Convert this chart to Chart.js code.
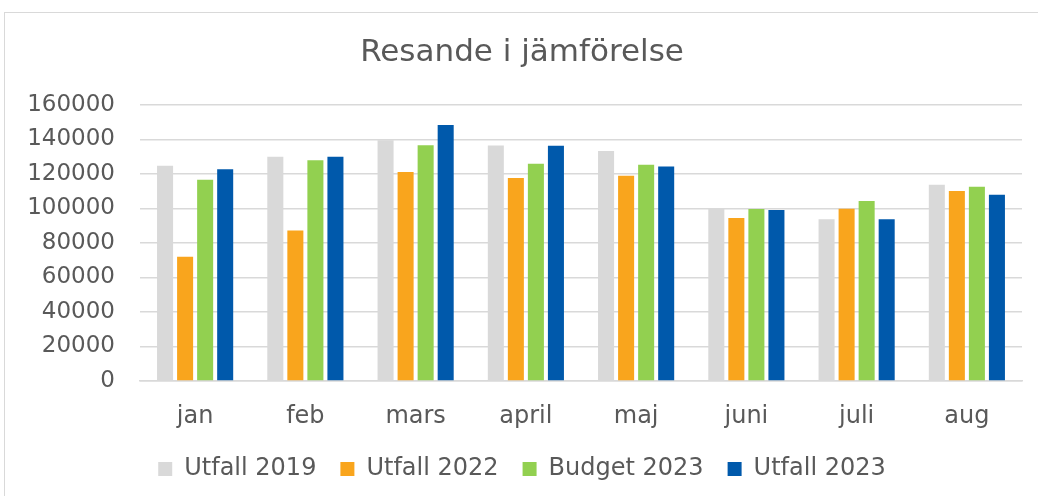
<!DOCTYPE html>
<html>
<head>
<meta charset="utf-8">
<script src="https://cdn.jsdelivr.net/npm/chart.js@4"></script>
<style>
  html, body { margin: 0; padding: 0; background: #fff; }
  #wrap { position: relative; width: 1038px; height: 496px; overflow: hidden; }
  #frame { position: absolute; left: 4px; top: 12px; width: 1100px; height: 600px; border: 1.5px solid #d9d9d9; }
  #resChart { position: absolute; left: 0; top: 0; }
</style>
</head>
<body>
<div id="wrap">
  <div id="frame"></div>
  <canvas id="resChart" width="1038" height="496"></canvas>
</div>
<script>
  const months = ['jan', 'feb', 'mars', 'april', 'maj', 'juni', 'juli', 'aug'];
  const utfall2019 = [124800, 130000, 139500, 136500, 133400, 100000, 93800, 113700];
  const utfall2022 = [72000, 87300, 121200, 117700, 119000, 94500, 99900, 110100];
  const budget2023 = [116700, 127900, 136600, 126000, 125400, 99700, 104300, 112600];
  const utfall2023 = [122700, 130000, 148400, 136400, 124400, 99100, 93700, 108000];

  const textColor = '#595959';
  const gridColor = '#d9d9d9';
  const fontFamily = "'DejaVu Sans', Verdana, sans-serif";

  const plotTop = 105;
  const plotBottom = 381;
  const plotLeft = 140;
  const padLeft = 22;
  const padBottom = 5;

  document.addEventListener("DOMContentLoaded", () => {
    const ctx = document.getElementById('resChart').getContext('2d');

    const data = {
      labels: months,
      datasets: [
        { label: 'Utfall 2019', data: utfall2019, backgroundColor: '#d9d9d9' },
        { label: 'Utfall 2022', data: utfall2022, backgroundColor: '#f9a51d' },
        { label: 'Budget 2023', data: budget2023, backgroundColor: '#92d050' },
        { label: 'Utfall 2023', data: utfall2023, backgroundColor: '#0059ab' }
      ]
    };

    new Chart(ctx, {
      type: 'bar',
      data: data,
      options: {
        responsive: false,
        animation: false,
        datasets: {
          bar: { categoryPercentage: 0.727, barPercentage: 0.8 }
        },
        layout: { padding: { left: padLeft, right: 16, top: 0, bottom: padBottom } },
        scales: {
          x: {
            grid: { display: false },
            border: { display: true, color: gridColor, width: 1.5 },
            ticks: { color: textColor, font: { family: fontFamily, size: 24 }, padding: 13 },
            afterFit: (scale) => {
              const legendH = scale.chart.legend ? scale.chart.legend.height : 0;
              scale.height = 496 - padBottom - legendH - plotBottom;
            }
          },
          y: {
            min: 0,
            max: 160000,
            ticks: {
              stepSize: 20000,
              color: textColor,
              font: { family: fontFamily, size: 23 },
              padding: 25,
              callback: (value) => String(value)
            },
            grid: { color: gridColor, lineWidth: 1.5, drawTicks: false },
            border: { display: false },
            afterFit: (scale) => { scale.width = plotLeft - padLeft; }
          }
        },
        plugins: {
          title: {
            display: true,
            text: 'Resande i jämförelse',
            color: textColor,
            font: { family: fontFamily, size: 31, weight: 'normal' },
            padding: { top: 34, bottom: plotTop - 34 - 37.2 }
          },
          legend: {
            position: 'bottom',
            labels: {
              color: textColor,
              font: { family: fontFamily, size: 24 },
              boxWidth: 14,
              boxHeight: 14,
              padding: 24
            }
          },
          tooltip: { enabled: false }
        }
      }
    });
  });
</script>
</body>
</html>
